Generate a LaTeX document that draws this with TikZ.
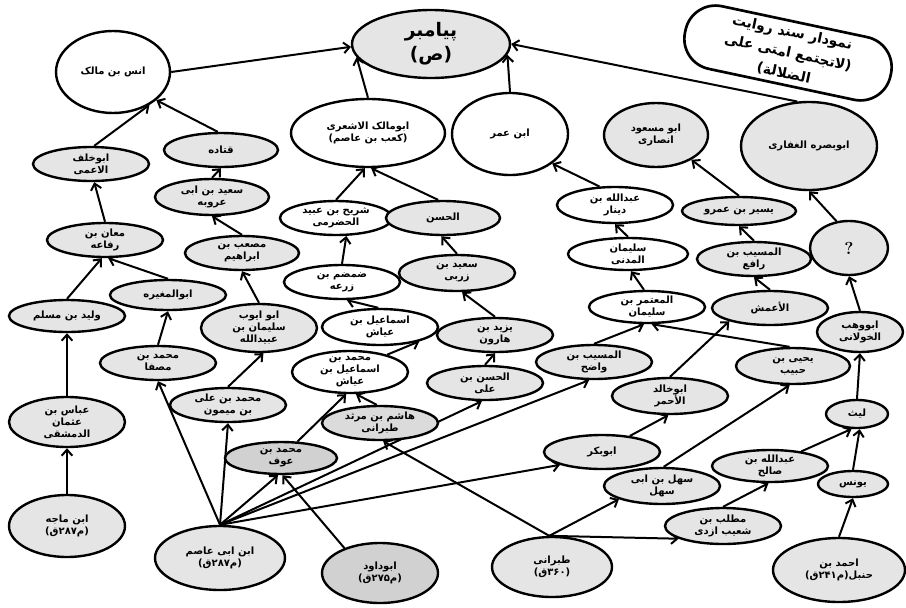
\documentclass[tikz,border=0pt]{standalone}
\usepackage{fontspec}
\newfontfamily\arabicfont[Script=Arabic]{DejaVu Sans}
\TeXXeTstate=1
\usetikzlibrary{shapes.geometric,arrows.meta,backgrounds}
\newcommand\rtlx[1]{\beginR #1\endR}
\newcommand\E[7]{\node[ell,#6,esz={#4}{#5},label={[lbl]center:{#7}}] (#1) at (#2,#3) {};}
\tikzset{
  ell/.style={ellipse, draw, line width=1.8pt, inner sep=0pt, fill=white},
  gr/.style={fill=black!10},
  md/.style={fill=black!14},
  dk/.style={fill=black!18},
  esz/.style 2 args={minimum width=#1*1.5pt, minimum height=#2*1.5pt},
  lbl/.style={font=\arabicfont\bfseries\fontsize{7.5}{9}\selectfont, align=center, inner sep=0pt},
  arr/.style={line width=1.5pt, -{Straight Barb[length=4.5pt,width=8pt,line width=1.5pt]}},
}
\begin{document}
\begin{tikzpicture}[x=0.75pt,y=-0.75pt]
\useasboundingbox (0,0) rectangle (906,607);

\node[ell,gr,esz={79}{34},label={[lbl,font=\arabicfont\bfseries\fontsize{14}{18}\selectfont]center:{\rtlx{پیامبر}\\\rtlx{(ص)}}}] (prophet) at (431,44) {};
\node[draw, line width=2pt, rounded corners=23pt, rotate=-12, minimum width=157.5pt, minimum height=48pt, fill=white, align=center, inner sep=1pt, font=\arabicfont\bfseries\fontsize{10.5}{15.5}\selectfont] (title) at (788,53) {\rtlx{نمودار سند روایت}\\\rtlx{(لاتجتمع امتی علی}\\\rtlx{الضلالة)}};

\E{anas}{113}{72}{57}{41}{}{\rtlx{انس بن مالک}}
\E{abumalik}{368}{133}{77}{34}{}{\rtlx{ابومالک الاشعری}\\\rtlx{(کعب بن عاصم)}}
\E{ibnumar}{510}{134}{58}{41}{}{\rtlx{ابن عمر}}
\E{abumasud}{656}{135}{52}{32}{gr}{\rtlx{ابو مسعود}\\\rtlx{انصاری}}
\E{abubasra}{809}{146}{68}{44}{gr}{\rtlx{ابوبصره الغفاری}}
\E{abukhalaf}{91}{164}{58}{17}{gr}{\rtlx{ابوخلف}\\\rtlx{الاعمی}}
\E{qatada}{221}{150}{57}{17}{gr}{\rtlx{قتاده}}
\E{saidarub}{212}{197}{57}{18}{gr}{\rtlx{سعید بن ابی}\\\rtlx{عروبه}}
\E{musab}{242}{253}{57}{17}{gr}{\rtlx{مصعب بن}\\\rtlx{ابراهیم}}
\E{maan}{105}{240}{58}{17}{gr}{\rtlx{معان بن}\\\rtlx{رفاعه}}
\E{mughira}{168}{295}{58}{15}{gr}{\rtlx{ابوالمغیره}}
\E{walid}{67}{316}{58}{16}{gr}{\rtlx{ولید بن مسلم}}
\E{abuayyub}{259}{328}{58}{24}{gr}{\rtlx{ابو ایوب}\\\rtlx{سلیمان بن}\\\rtlx{عبیدالله}}
\E{musaffa}{158}{363}{58}{17}{gr}{\rtlx{محمد بن}\\\rtlx{مصفا}}
\E{maymun}{228}{405}{58}{17}{gr}{\rtlx{محمد بن علی}\\\rtlx{بن میمون}}
\E{abbas}{67}{422}{58}{25}{gr}{\rtlx{عباس بن}\\\rtlx{عثمان}\\\rtlx{الدمشقی}}
\E{majah}{67}{526}{58}{31}{gr}{\rtlx{ابن ماجه}\\\rtlx{(م۲۸۷ق)}}
\E{aasem}{220}{558}{65}{32}{gr}{\rtlx{ابن ابی عاصم}\\\rtlx{(م۲۸۷ق)}}
\E{awf}{281}{458}{56}{16}{dk}{\rtlx{محمد بن}\\\rtlx{عوف}}
\E{dawud}{380}{573}{58}{30}{dk}{\rtlx{ابوداود}\\\rtlx{(م۲۷۵ق)}}
\E{ismail}{380}{327}{58}{18}{}{\rtlx{اسماعیل بن}\\\rtlx{عیاش}}
\E{mismail}{350}{372}{58}{21}{}{\rtlx{محمد بن}\\\rtlx{اسماعیل بن}\\\rtlx{عیاش}}
\E{hashim}{380}{423}{58}{17}{md}{\rtlx{هاشم بن مرثد}\\\rtlx{طبرانی}}
\E{damdam}{342}{282}{58}{17}{}{\rtlx{ضمضم بن}\\\rtlx{زرعه}}
\E{shurayh}{336}{218}{56}{17}{}{\rtlx{شریح بن عبید}\\\rtlx{الحضرمی}}
\E{hasan}{443}{218}{57}{17}{gr}{\rtlx{الحسن}}
\E{zarbi}{457}{273}{58}{18}{gr}{\rtlx{سعید بن}\\\rtlx{زربی}}
\E{yazid}{495}{335}{58}{17}{gr}{\rtlx{یزید بن}\\\rtlx{هارون}}
\E{hasanali}{485}{383}{58}{17}{gr}{\rtlx{الحسن بن}\\\rtlx{علی}}
\E{dinar}{615}{205}{58}{18}{}{\rtlx{عبدالله بن}\\\rtlx{دینار}}
\E{madani}{628}{254}{60}{16}{}{\rtlx{سلیمان}\\\rtlx{المدنی}}
\E{mutamir}{647}{307}{58}{16}{}{\rtlx{المعتمر بن}\\\rtlx{سلیمان}}
\E{yusayr}{739}{211}{57}{14}{gr}{\rtlx{یسیر بن عمرو}}
\E{musayyib}{754}{259}{57}{17}{gr}{\rtlx{المسیب بن}\\\rtlx{رافع}}
\E{amash}{770}{308}{58}{17}{gr}{\rtlx{الأعمش}}
\node[ell,gr,esz={39}{27},label={[lbl,font=\bfseries\fontsize{13}{13}\selectfont]center:{?}}] (q) at (849,248) {};
\E{abuwahb}{860}{332}{43}{20}{gr}{\rtlx{ابووهب}\\\rtlx{الخولانی}}
\E{yahya}{793}{366}{57}{18}{gr}{\rtlx{یحیی بن}\\\rtlx{حبیب}}
\E{wadih}{594}{362}{58}{17}{gr}{\rtlx{المسیب بن}\\\rtlx{واضح}}
\E{abukhalid}{670}{396}{58}{18}{gr}{\rtlx{ابوخالد}\\\rtlx{الأحمر}}
\E{abubakr}{602}{452}{58}{17}{gr}{\rtlx{ابوبکر}}
\E{sahl}{662}{486}{58}{18}{gr}{\rtlx{سهل بن ابی}\\\rtlx{سهل}}
\E{salih}{770}{466}{58}{16}{gr}{\rtlx{عبدالله بن}\\\rtlx{صالح}}
\E{layth}{857}{414}{31}{14}{gr}{\rtlx{لیث}}
\E{yunus}{853}{484}{35}{13}{gr}{\rtlx{یونس}}
\E{mutallib}{723}{526}{58}{18}{gr}{\rtlx{مطلب بن}\\\rtlx{شعیب ازدی}}
\E{hanbal}{839}{570}{66}{32}{gr}{\rtlx{احمد بن}\\\rtlx{حنبل(م۲۴۱ق)}}
\E{tabarani}{552}{567}{60}{30}{gr}{\rtlx{طبرانی}\\\rtlx{(۳۶۰ق)}}

\begin{pgfonlayer}{background}
\draw[arr] (anas.east) -- (prophet.182);
\draw[arr] (abumalik.north) -- (prophet.190);
\draw[arr] (ibnumar.north) -- (prophet.-8);
\draw[arr] (abubasra.105) -- (prophet.east);
\draw[arr] (abukhalaf.80) -- (anas.-42);
\draw[arr] (qatada.100) -- (anas.-33);
\draw[arr] (saidarub.north) -- (qatada.south);
\draw[arr] (musab.north) -- (saidarub.south);
\draw[arr] (maan.north) -- (abukhalaf.-80);
\draw[arr] (walid.north) -- (maan.-100);
\draw[arr] (mughira.north) -- (maan.-80);
\draw[arr] (musaffa.north) -- (mughira.south);
\draw[arr] (abuayyub.north) -- (musab.south);
\draw[arr] (abbas.north) -- (walid.south);
\draw[arr] (majah.north) -- (abbas.south);
\draw[arr] (maymun.north) -- (abuayyub.-80);
\draw[arr] (aasem.north) -- (musaffa.south);
\draw[arr] (aasem.north) -- (maymun.south);
\draw[arr] (aasem.north) -- (awf.-100);
\draw[arr] (aasem.north) -- (hasanali.-100);
\draw[arr] (aasem.north) -- (wadih.-105);
\draw[arr] (aasem.north) -- (abubakr.197);
\draw[arr] (dawud.145) -- (awf.-85);
\draw[arr] (awf.45) -- (mismail.-100);
\draw[arr] (hashim.100) -- (mismail.-75);
\draw[arr] (tabarani.95) -- (hashim.-80);
\draw[arr] (tabarani.95) -- (sahl.197);
\draw[arr] (tabarani.95) -- (mutallib.196);
\draw[arr] (sahl.85) -- (yahya.-100);
\draw[arr] (yahya.100) -- (mutamir.-75);
\draw[arr] (wadih.north) -- (mutamir.-100);
\draw[arr] (mutamir.100) -- (madani.-80);
\draw[arr] (madani.north) -- (dinar.south);
\draw[arr] (dinar.130) -- (ibnumar.-35);
\draw[arr] (abubakr.30) -- (abukhalid.-95);
\draw[arr] (abukhalid.north) -- (amash.198);
\draw[arr] (amash.north) -- (musayyib.south);
\draw[arr] (musayyib.north) -- (yusayr.south);
\draw[arr] (yusayr.north) -- (abumasud.-35);
\draw[arr] (q.115) -- (abubasra.south);
\draw[arr] (abuwahb.north) -- (q.south);
\draw[arr] (layth.north) -- (abuwahb.south);
\draw[arr] (salih.25) -- (layth.-110);
\draw[arr] (yunus.north) -- (layth.-80);
\draw[arr] (hanbal.north) -- (yunus.south);
\draw[arr] (mutallib.north) -- (salih.-95);
\draw[arr] (mismail.25) -- (ismail.-20);
\draw[arr] (ismail.95) -- (damdam.-75);
\draw[arr] (damdam.north) -- (shurayh.-60);
\draw[arr] (shurayh.north) -- (abumalik.-95);
\draw[arr] (hasan.105) -- (abumalik.-85);
\draw[arr] (zarbi.north) -- (hasan.-95);
\draw[arr] (yazid.north) -- (zarbi.-75);
\draw[arr] (hasanali.north) -- (yazid.south);
\end{pgfonlayer}
\end{tikzpicture}
\end{document}
